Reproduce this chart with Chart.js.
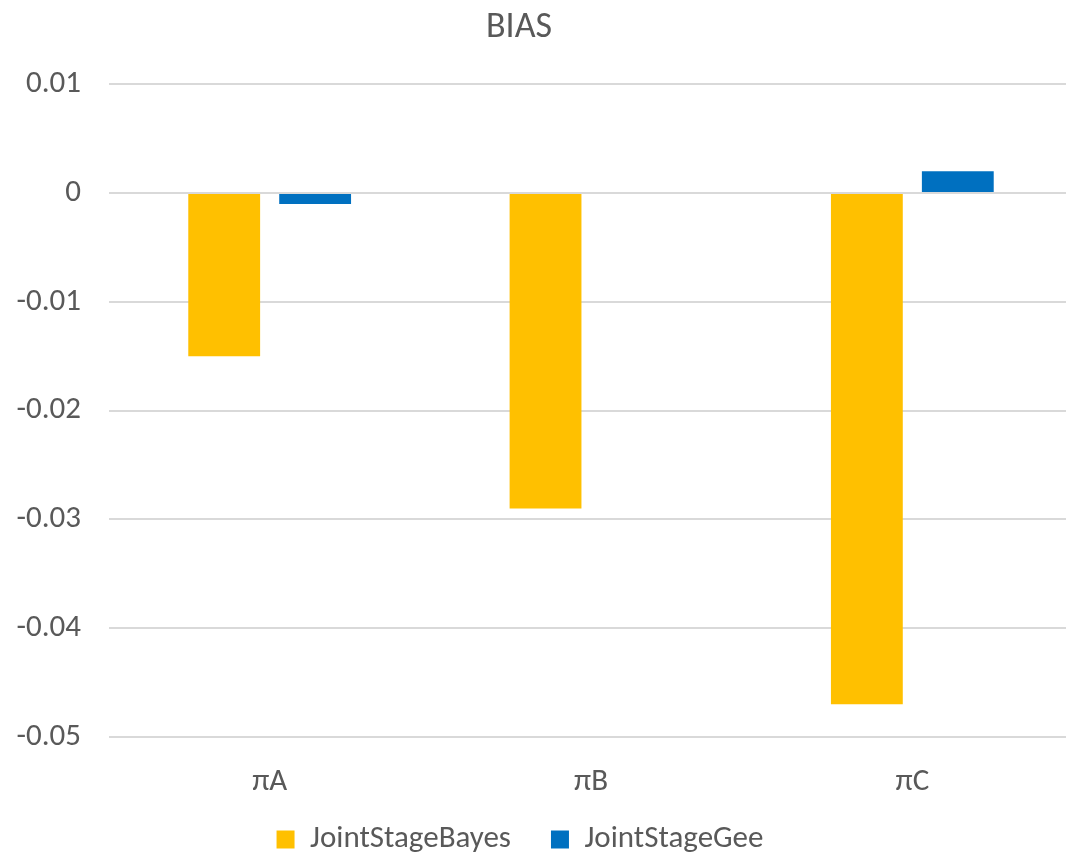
<!DOCTYPE html>
<html>
<head>
<meta charset="utf-8">
<script src="https://cdn.jsdelivr.net/npm/chart.js@4/dist/chart.umd.min.js"></script>
<style>
  html, body { margin: 0; padding: 0; background: #fff; }
  #wrap { width: 1066px; height: 857px; overflow: hidden; }
</style>
</head>
<body>
<div id="wrap"><canvas id="biasChart" width="1073" height="857"></canvas></div>
<script>
// ---- data ----
const categories = ['πA', 'πB', 'πC'];
const bayesValues = [-0.015, -0.029, -0.047];
const geeValues = [-0.001, 0, 0.002];
const seriesNames = ['JointStageBayes', 'JointStageGee'];
const yMin = -0.05;
const yMax = 0.01;
const yStep = 0.01;

const textColor = '#595959';
const fontFamily = "Carlito, Calibri, 'Open Sans', sans-serif";

Chart.defaults.font.family = fontFamily;
Chart.defaults.color = textColor;

// nudge title / legend to where Excel puts them
const boxPlacement = {
    id: 'boxPlacement',
    afterInit(chart) {
        const legend = chart.legend;
        const fit = legend.fit.bind(legend);
        legend.fit = function() {
            fit();
            this.height = 57;
        };
    },
    afterLayout(chart) {
        const legend = chart.legend;
        legend.top -= 16;
        legend.left -= 24;
        legend.right -= 24;
        const title = chart.titleBlock;
        title.left -= 25;
        title.right -= 25;
    }
};

const ctx = document.getElementById('biasChart');
new Chart(ctx, {
    type: 'bar',
    data: {
        labels: categories,
        datasets: [
            {
                label: seriesNames[0],
                data: bayesValues,
                backgroundColor: '#FFC000',
                categoryPercentage: 0.566,
                barPercentage: 0.79
            },
            {
                label: seriesNames[1],
                data: geeValues,
                backgroundColor: '#0070C0',
                categoryPercentage: 0.566,
                barPercentage: 0.79
            }
        ]
    },
    options: {
        responsive: false,
        animation: false,
        layout: {
            padding: { left: 15, right: 0, top: 0, bottom: 0 }
        },
        scales: {
            x: {
                grid: { display: false, drawTicks: false },
                border: { display: false },
                ticks: {
                    font: { size: 31 },
                    color: textColor,
                    padding: 27
                },
                afterFit: function(scale) {
                    scale.height = 63;
                }
            },
            y: {
                min: yMin,
                max: yMax,
                grid: { color: '#d9d9d9', lineWidth: 2, drawTicks: false },
                border: { display: false },
                ticks: {
                    stepSize: yStep,
                    font: { size: 31 },
                    color: textColor,
                    padding: 28,
                    callback: function(value) {
                        const v = Math.round(value * 100) / 100;
                        return v === 0 ? '0' : String(v);
                    }
                },
                afterFit: function(scale) {
                    scale.width = 94;
                }
            }
        },
        plugins: {
            title: {
                display: true,
                text: 'BIAS',
                font: { size: 36, weight: 'normal' },
                color: textColor,
                padding: { top: 6, bottom: 35 }
            },
            legend: {
                position: 'bottom',
                labels: {
                    font: { size: 31 },
                    color: textColor,
                    boxWidth: 18,
                    boxHeight: 18,
                    padding: 40
                }
            },
            tooltip: { enabled: false }
        }
    },
    plugins: [boxPlacement]
});
</script>
</body>
</html>
